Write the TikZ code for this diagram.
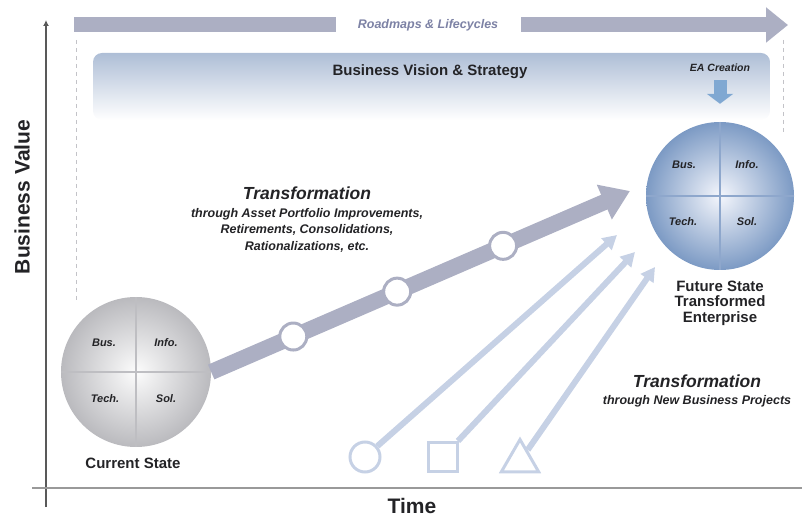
\documentclass[tikz,border=0pt]{standalone}
\usepackage{fontspec}
\setmainfont{Liberation Sans}
\usetikzlibrary{arrows.meta,shapes.geometric}

\definecolor{bandgray}{RGB}{172,175,195}
\definecolor{roadtext}{RGB}{125,130,165}
\definecolor{lineblue}{RGB}{198,209,229}
\definecolor{eablue}{RGB}{128,168,210}
\definecolor{futedge}{RGB}{124,154,196}
\definecolor{futin}{RGB}{244,246,252}
\definecolor{futline}{RGB}{142,167,204}
\definecolor{curedge}{RGB}{186,186,190}
\definecolor{curin}{RGB}{252,252,252}
\definecolor{curline}{RGB}{190,190,194}
\definecolor{bannertop}{RGB}{174,190,214}
\definecolor{guidegray}{RGB}{195,195,200}
\definecolor{txt}{RGB}{35,35,38}

\tikzset{
    axlbl/.style={font=\bfseries\fontsize{21}{23}\selectfont, text=txt},
    statelbl/.style={font=\bfseries\fontsize{15}{15.5}\selectfont, text=txt, align=center},
    quad/.style={font=\bfseries\itshape\fontsize{11}{12}\selectfont, text=txt},
    trhead/.style={font=\bfseries\itshape\fontsize{17.5}{19}\selectfont, text=txt},
    trsub/.style={font=\bfseries\itshape\fontsize{12.5}{16.5}\selectfont, text=txt, align=center},
    ball/.style={circle, inner sep=0pt},
    milestone/.style={circle, draw=bandgray, line width=3pt, fill=white, minimum size=27pt, inner sep=0pt},
    mainband/.style={draw=bandgray, line width=16pt, -{Triangle[width=36pt,length=28pt]}},
    thinarrow/.style={draw=lineblue, line width=6pt, -{Triangle[width=15pt,length=14pt]}},
    startshape/.style={draw=lineblue, line width=3pt, inner sep=0pt},
    guide/.style={draw=guidegray, line width=1pt, dash pattern=on 4pt off 4pt}
}

\begin{document}
\begin{tikzpicture}[x=1pt,y=-1pt]
    \useasboundingbox (0,0) rectangle (802,518);

    % vision banner
    \shade[top color=bannertop, bottom color=white, rounded corners=9pt] (93,53) rectangle (770,120);
    \node[font=\bfseries\fontsize{15}{17}\selectfont, text=txt] (vision) at (430,72) {Business Vision \& Strategy};
    \node[font=\bfseries\itshape\fontsize{10.5}{12}\selectfont, text=txt] (ea) at (720,68) {EA Creation};

    % dashed guides
    \draw[guide] (76,40) -- (76,300);
    \draw[guide] (783,40) -- (783,135);

    % roadmaps band
    \coordinate (roadstart) at (74,25);
    \coordinate (roadend) at (788,25);
    \draw[bandgray, line width=15pt, -{Triangle[width=34pt,length=22pt]}] (roadstart) -- (roadend);
    \node[fill=white, minimum width=185pt, minimum height=19pt, inner sep=0pt,
          font=\bfseries\itshape\fontsize{12.5}{14}\selectfont, text=roadtext] (road) at (428,25) {Roadmaps \& Lifecycles};

    % axes
    \draw[gray!70!black, line width=1.3pt, -{Latex[length=6pt,width=6pt]}] (46,507) -- (46,20);
    \draw[gray!80, line width=1.3pt] (32,488) -- (802,488);
    \node[axlbl, rotate=90] (ylbl) at (22,197) {Business Value};
    \node[axlbl] (xlbl) at (412,506) {Time};

    % current state
    \node[ball, minimum size=150pt, inner color=curin, outer color=curedge] (cur) at (136,372) {};
    \draw[curline, line width=1.5pt] (cur.north) -- (cur.south);
    \draw[curline, line width=1.5pt] (cur.west) -- (cur.east);
    \foreach \t/\dx/\dy [count=\i] in {Bus./-32/-29, Info./30/-29, Tech./-31/27, Sol./30/27}
        \node[quad] (curq\i) at ([shift={(\dx,\dy)}]cur.center) {\t};
    \node[statelbl] (curlbl) at (133,463) {Current State};

    % future state
    \node[ball, minimum size=148pt, inner color=futin, outer color=futedge] (fut) at (720,196) {};
    \draw[futline, line width=2pt] (fut.north) -- (fut.south);
    \draw[futline, line width=2pt] (fut.west) -- (fut.east);
    \foreach \t/\dx/\dy [count=\i] in {Bus./-36/-31, Info./27/-31, Tech./-37/26, Sol./27/26}
        \node[quad] (futq\i) at ([shift={(\dx,\dy)}]fut.center) {\t};
    \node[statelbl] (futlbl) at (720,303) {Future State\\Transformed\\Enterprise};
    \draw[eablue, line width=13pt, shorten <=5pt, shorten >=18pt, -{Triangle[width=26pt,length=10pt]}] (ea) -- (fut);

    % asset portfolio path
    \coordinate (maintip) at (630,191);
    \draw[mainband] (cur.east) -- (maintip)
        node[milestone, pos=.196] (m1) {}
        node[milestone, pos=.444] (m2) {}
        node[milestone, pos=.697] (m3) {};
    \node[trhead] (tr1) at (307,193) {Transformation};
    \node[trsub] (tr1sub) at (307,230) {through Asset Portfolio Improvements,\\Retirements, Consolidations,\\Rationalizations, etc.};

    % new business projects
    \node[startshape, circle, minimum size=30pt] (sc) at (365,457) {};
    \node[startshape, rectangle, minimum size=29pt] (sq) at (443,457) {};
    \node[startshape, regular polygon, regular polygon sides=3, minimum size=43pt] (tri) at (520,461) {};
    \coordinate (t1) at (617,235);
    \coordinate (t2) at (635,252);
    \coordinate (t3) at (655,267);
    \foreach \s/\e in {sc/t1, sq/t2, tri/t3}
        \draw[thinarrow] (\s) -- (\e);
    \node[trhead] (tr2) at (697,381) {Transformation};
    \node[trsub] (tr2sub) at (697,401) {through New Business Projects};
\end{tikzpicture}
\end{document}
